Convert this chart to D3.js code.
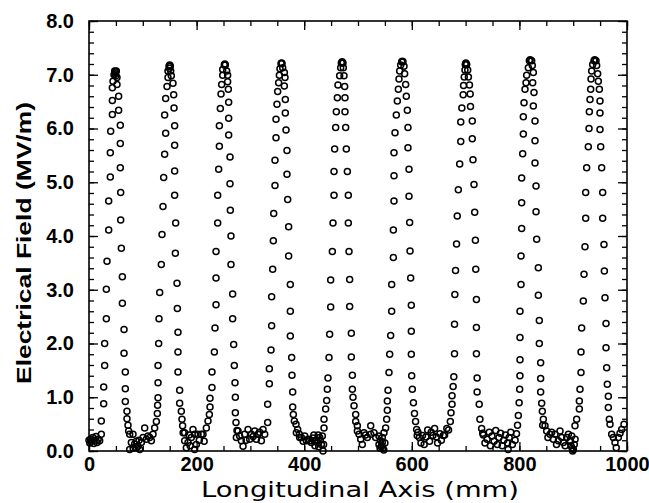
<!DOCTYPE html>
<html><head><meta charset="utf-8">
<script src="https://cdn.jsdelivr.net/npm/d3@7/dist/d3.min.js"></script>
<style>
html,body{margin:0;padding:0;background:#fff;}
svg{display:block;}
</style></head>
<body>
<svg id="chart" width="649" height="503"></svg>
<script>
// ---- Data (x in mm, y in MV/m) ----
const base0 = [[0,0.2],[1.5,0.15],[3,0.22],[5,0.18],[7,0.25],[9,0.14],[11,0.2],[13,0.27],[15,0.16],[17,0.22],[19.8,0.19],[22.9,0.31]];
const peak1 = [[22.9,0.56],[27.3,0.88],[27.3,1.19],[29.1,1.59],[29.1,2.0],[32.2,2.46],[32.2,3.01],[33.5,3.53],[36.6,4.11],[36.6,4.65],[39.6,5.10],[39.6,5.55],[40.3,5.95],[43.4,6.26],[43.4,6.52],[43.4,6.76],[44.6,6.88],[46.5,7.0],[47.7,7.07],
  [49.5,7.05],[48.5,7.02],[50,6.98],
  [50.8,7.07],[52.0,6.95],[52.0,6.82],[55.1,6.60],[55.1,6.34],[58.2,6.06],[58.2,5.72],[58.2,5.27],[58.9,4.81],[58.9,4.30],[60.1,3.77],[62.0,3.24],[62.0,2.75],[65.1,2.26],[65.1,1.82],[67.5,1.47],[67.5,1.16],[67.5,0.92],[70.6,0.74],[70.6,0.60],[72.5,0.48]];
const base1 = [[73.7,0.37],[75.6,0.31],[81.8,0.31],[78.7,0.16],[75.6,0.03],[84.9,0.13],[87.9,0.06],[91,0.09],[94.2,0.03],[97.3,0.16],[100.4,0.25],[103.5,0.43],[106.6,0.22],[109.7,0.28],[112.8,0.25],[115.9,0.19],[119,0.31],[122,0.43],[88,0.18],[82,0.05],[93,0.2]];
const peak2 = [[125.2,0.55],[127,0.70],[127.5,0.85],[128.3,0.99],[128.3,1.27],[128.3,1.59],[129.5,2.0],[130.1,2.46],[131.4,2.95],[134.4,3.47],[135.7,4.03],[137.5,4.55],[138.8,5.09],[140.6,5.52],[142.5,5.91],[140.6,6.25],[142.5,6.56],[145,6.78],[146.8,6.95],[146.8,7.07],[148.7,7.16],
  [150,7.18],[149.5,7.12],
  [151.2,7.16],[151.8,7.07],[153,6.98],[156.1,6.84],[157.4,6.63],[158,6.38],[159.2,6.05],[159.2,5.69],[159.2,5.21],[159.2,4.76],[161.1,4.24],[160.5,3.68],[163.6,3.12],[164.2,2.65],[165.4,2.21],[165.4,1.84],[165.4,1.47],[168.5,1.13],[168.5,0.89],[171.6,0.74],[172.8,0.59],[174,0.47],[175,0.34]];
const base2 = [[177.8,0.34],[177.8,0.19],[184,0.16],[180.9,0.06],[190.2,0.25],[193.3,0.40],[196.4,0.31],[199.5,0.12],[196.4,0.03],[202.6,0.31],[208.8,0.31],[211.9,0.31],[218.1,0.43],[186,0.3],[205,0.2],[214,0.18],[188,0.1]];
const peak3 = [[221.2,0.56],[223.7,0.68],[224.9,0.82],[224.9,0.98],[228.6,1.18],[228.6,1.47],[233,1.84],[234.2,2.29],[236.1,2.72],[236.1,3.22],[236.1,3.71],[239.2,4.24],[239.2,4.76],[241,5.24],[242.3,5.67],[242.3,6.05],[244.1,6.37],[245.4,6.64],[246.6,6.82],[248.5,6.99],[248.5,7.10],[251.5,7.18],
  [252.5,7.2],
  [253.4,7.18],[255.9,7.07],[257.7,6.99],[257.7,6.87],[259,6.73],[259.6,6.49],[259.6,6.19],[259.6,5.88],[262.1,5.47],[262.1,4.97],[262.7,4.48],[263.9,4.0],[263.9,3.47],[267,2.92],[267,2.46],[268.9,1.98],[270.1,1.59],[271.4,1.27],[272,1.0],[272,0.71],[273.2,0.53],[275.1,0.38]];
const base3 = [[277,0.37],[273.9,0.25],[283.2,0.19],[286.3,0.09],[289.4,0.31],[295.6,0.40],[298.7,0.22],[301.8,0.31],[308,0.37],[311.1,0.22],[314.2,0.31],[320.4,0.19],[323.5,0.40],[326.6,0.31],[280,0.28],[292,0.2],[305,0.27],[317,0.35]];
const peak4 = [[332.1,0.53],[332.1,0.87],[335.2,1.25],[335.2,1.53],[338.3,1.88],[339.5,2.33],[339.5,2.87],[341.4,3.38],[342.6,3.91],[343.3,4.42],[345.7,4.94],[345.7,5.41],[347.6,5.83],[347.6,6.17],[349.4,6.45],[350.7,6.69],[352.5,6.85],[353.8,6.99],[355,7.11],[356.9,7.21],
  [358,7.22],
  [358.7,7.21],[360,7.13],[363.1,7.04],[364.3,6.95],[363.1,6.79],[364.9,6.54],[364.9,6.29],[366.2,5.97],[368,5.59],[368,5.15],[369.3,4.68],[371.1,4.17],[371.1,3.63],[374.2,3.10],[374.2,2.60],[374.2,2.14],[376.7,1.74],[377.3,1.41],[378.6,1.10],[378.6,0.82],[379.8,0.68],[381.7,0.56],[384.8,0.50],[387.9,0.40],[391,0.31]];
const base4 = [[385.4,0.34],[391.6,0.25],[394.7,0.25],[400.9,0.28],[404,0.19],[407.1,0.22],[410.2,0.19],[413.3,0.16],[419.5,0.19],[428.8,0.25],[431.9,0.12],[435,0.0],[398,0.18],[416,0.24],[423,0.2],[426,0.3],[433.7,0.28],[436,0.12],[420,0.1],[425,0.15],[430,0.2],[427,0.08],[418,0.3]];
const peak5 = [[436.8,0.43],[436.8,0.59],[439.9,0.78],[441.8,0.94],[443,1.15],[444.2,1.36],[446.1,1.74],[447.3,2.17],[449.2,2.68],[449.2,3.18],[452.3,3.71],[453.5,4.24],[455.4,4.76],[455.4,5.20],[456.6,5.62],[458.5,6.02],[459.7,6.31],[461.6,6.57],[462.8,6.81],[465.9,6.98],[467.8,7.13],[469,7.22],
  [470.5,7.24],
  [472.1,7.22],[472.7,7.13],[474,6.98],[475.2,6.78],[475.8,6.57],[475.8,6.31],[477.1,6.02],[478.3,5.62],[480.2,5.20],[482,4.76],[482,4.24],[483.3,3.71],[484.5,3.19],[484.5,2.69],[487.6,2.19],[487.6,1.75],[489.5,1.41],[489.5,1.15],[490.7,1.0],[492.6,0.84],[495.7,0.68],[495.7,0.55]];
const base5 = [[498.8,0.47],[498.8,0.37],[501.9,0.31],[505,0.22],[511.2,0.34],[517.4,0.25],[523.6,0.47],[523.6,0.31],[529.7,0.34],[532.8,0.25],[539,0.28],[542.1,0.19],[545.2,0.25],[548.3,0.34],[545.2,0.16],[539,0.12],[546,0.05],[543,0.08],[508,0.12],[514,0.3],[541,0.05],[544,0.1],[548,0.02],[550,0.15]];
const peak6 = [[551.4,0.43],[553.3,0.59],[554.5,0.76],[554.5,0.93],[555.8,1.13],[557.6,1.46],[558.9,1.80],[560.7,2.15],[562.6,2.60],[562.6,3.10],[565.7,3.60],[565.7,4.11],[566.9,4.65],[566.9,5.12],[566.9,5.55],[568.8,5.92],[571.2,6.25],[573.1,6.51],[575,6.73],[576.2,6.92],[577.4,7.07],[579.3,7.18],[581.2,7.24],
  [582.5,7.25],
  [583.6,7.24],[585.5,7.16],[586.7,7.02],[588.6,6.82],[589.8,6.60],[591.7,6.34],[592.9,6.02],[592.9,5.64],[594.8,5.24],[594.8,4.74],[596,4.25],[596.7,3.72],[597.9,3.22],[599.1,2.71],[599.1,2.23],[599.1,1.80],[599.8,1.40],[601,1.15],[603,0.90],[605,0.70],[607,0.55],[609,0.40],[610,0.29]];
const base6 = [[611.4,0.35],[614,0.25],[619.8,0.29],[626.3,0.26],[629.5,0.39],[636,0.35],[639.2,0.29],[642.4,0.42],[645.7,0.26],[652.2,0.32],[658.6,0.29],[665.1,0.42],[617,0.15],[623,0.12],[633,0.18],[648,0.15],[655,0.2],[661,0.3]];
const peak7 = [[668.3,0.39],[671.6,0.55],[672.9,0.71],[674.8,0.87],[674.8,1.03],[676.8,1.20],[678.1,1.38],[679.4,1.81],[679.4,2.36],[680,2.91],[681.3,3.36],[683.2,3.85],[684.5,4.37],[686.5,4.86],[689,5.34],[691,5.76],[691,6.12],[693,6.38],[695.5,6.63],[696.2,6.80],[697.5,6.96],[698.8,7.09],[699.4,7.19],
  [700.5,7.22],
  [702,7.19],[703.9,7.09],[705.2,6.96],[707.2,6.81],[708.5,6.64],[709.1,6.41],[712.4,6.14],[712.4,5.81],[713.7,5.42],[715.6,4.96],[716.9,4.44],[718.2,3.92],[718.9,3.38],[720.1,2.82],[720.1,2.30],[720.1,1.81],[721.4,1.36],[721.4,1.10],[725.3,0.87],[726.6,0.59],[729.8,0.42],[731.8,0.33]];
const base7 = [[733,0.30],[736,0.15],[740,0.22],[744,0.35],[746,0.1],[749,0.28],[753,0.18],[756,0.38],[759,0.12],[762,0.25],[765,0.33],[768,0.1],[771,0.2],[774,0.3],[778,0.15],[781,0.25],[784,0.35],[787,0.12],[779,0.03]];
const peak8 = [[792,0.20],[794.6,0.32],[796.5,0.48],[798,0.66],[799.5,0.90],[800.5,1.15],[801,1.40],[801.1,1.70],[801.1,2.11],[801.1,2.60],[803,3.10],[803,3.63],[804.2,4.14],[804.2,4.62],[804.2,5.08],[806.1,5.53],[807.3,5.90],[807.3,6.22],[808.6,6.48],[810.4,6.73],[812.3,6.85],[813.5,6.99],[816.6,7.13],[818.5,7.26],
  [820,7.28],
  [822.8,7.26],[824,7.17],[825.9,7.04],[824.7,6.85],[827.1,6.67],[825.9,6.42],[829,6.14],[829,5.77],[829,5.36],[830.9,4.93],[830.9,4.45],[832.1,3.94],[835.2,3.41],[835.2,2.90],[837,2.43],[837,2.0],[839.5,1.64],[839.5,1.35],[839.5,1.10],[841.4,0.89],[842.6,0.74],[844.5,0.59],[843.3,0.48]];
const base8 = [[847.6,0.47],[850.7,0.37],[856.9,0.31],[863.1,0.22],[866.2,0.31],[872.4,0.19],[875.5,0.37],[878.6,0.25],[881.7,0.16],[887.9,0.25],[891,0.31],[894.1,0.19],[897.2,0.28],[900.4,0.03],[903.5,0.22],[853,0.25],[860,0.35],[869,0.12],[885,0.1],[896,0.1],[898,0.05],[902,0.12],[895,0.18],[899,0.0]];
const peak9 = [[903.3,0.47],[906.4,0.59],[911.4,0.78],[911.4,0.93],[912.6,1.15],[914.5,1.46],[914.5,1.84],[915.7,2.29],[918.8,2.79],[920.1,3.29],[921.9,3.80],[923.2,4.33],[923.2,4.81],[925,5.27],[928.1,5.66],[929.4,6.0],[930,6.31],[931.2,6.54],[932.5,6.73],[933.1,6.92],[934.3,7.07],[936.2,7.19],[938.7,7.26],
  [940,7.28],
  [942.4,7.26],[943.6,7.17],[945.5,7.02],[946.7,6.88],[948.6,6.73],[949.8,6.51],[949.8,6.29],[949.8,5.98],[951.1,5.66],[952.9,5.27],[954.8,4.81],[954.8,4.33],[957.2,3.84],[957.9,3.35],[959.1,2.85],[961,2.37],[961,1.92],[962.2,1.55],[963.4,1.24],[965.3,1.02],[965.3,0.81],[967.1,0.59],[968.4,0.50],[971.5,0.31],[974.6,0.25]];
const base9 = [[977.7,0.16],[983.9,0.25],[990.1,0.40],[994.4,0.50],[980,0.06],[987,0.33]];

const xMajorTicks = [0,200,400,600,800,1000];
const xMinorTicks = d3.range(0,1001,50);
const yMajorTicks = [0,1,2,3,4,5,6,7,8];
const yMinorTicks = d3.range(0,8.001,0.2);
const xTitle = "Longitudinal Axis (mm)";
const yTitle = "Electrical Field (MV/m)";

// ---- Drawing ----
const svg = d3.select("#chart");
const x = d3.scaleLinear().domain([0,1000]).range([89,627]);
const y = d3.scaleLinear().domain([0,8]).range([451,21]);
const FONT = "'Liberation Sans', Arial, Helvetica, sans-serif";

const allPoints = [].concat(base0,peak1,base1,peak2,base2,peak3,base3,peak4,base4,peak5,base5,peak6,base6,peak7,base7,peak8,base8,peak9,base9);

svg.append("g").selectAll("circle").data(allPoints).join("circle")
  .attr("cx", d => x(d[0])).attr("cy", d => y(d[1])).attr("r", 3.0)
  .attr("fill", "none").attr("stroke", "#000").attr("stroke-width", 1.5);

function styleAxis(g){
  g.select(".domain").remove();
  g.selectAll(".tick line").attr("stroke","#000").attr("stroke-width",1.3);
  g.selectAll(".tick text").attr("fill","#000").attr("font-family",FONT)
    .attr("font-weight","bold").attr("font-size","20px");
}
// bottom
svg.append("g").attr("transform",`translate(0,${y(0)})`)
  .call(d3.axisBottom(x).tickValues(xMinorTicks).tickSize(-5).tickFormat("")).call(styleAxis);
svg.append("g").attr("transform",`translate(0,${y(0)})`)
  .call(d3.axisBottom(x).tickValues(xMajorTicks).tickSize(-9).tickPadding(6).tickFormat(d3.format("d"))).call(styleAxis);
// top
svg.append("g").attr("transform",`translate(0,${y(8)})`)
  .call(d3.axisTop(x).tickValues(xMinorTicks).tickSize(-5).tickFormat("")).call(styleAxis);
svg.append("g").attr("transform",`translate(0,${y(8)})`)
  .call(d3.axisTop(x).tickValues(xMajorTicks).tickSize(-9).tickFormat("")).call(styleAxis);
// left
svg.append("g").attr("transform",`translate(${x(0)},0)`)
  .call(d3.axisLeft(y).tickValues(yMinorTicks).tickSize(-5).tickFormat("")).call(styleAxis);
svg.append("g").attr("transform",`translate(${x(0)},0)`)
  .call(d3.axisLeft(y).tickValues(yMajorTicks).tickSize(-9).tickPadding(15).tickFormat(d3.format(".1f"))).call(styleAxis);
// right
svg.append("g").attr("transform",`translate(${x(1000)},0)`)
  .call(d3.axisRight(y).tickValues(yMinorTicks).tickSize(-5).tickFormat("")).call(styleAxis);
svg.append("g").attr("transform",`translate(${x(1000)},0)`)
  .call(d3.axisRight(y).tickValues(yMajorTicks).tickSize(-9).tickFormat("")).call(styleAxis);

// frame
svg.append("rect").attr("x",x(0)).attr("y",y(8)).attr("width",x(1000)-x(0)).attr("height",y(0)-y(8))
  .attr("fill","none").attr("stroke","#000").attr("stroke-width",1.6);

// titles
svg.append("text").attr("x",360).attr("y",497).attr("text-anchor","middle")
  .attr("font-family","'DejaVu Sans', sans-serif").attr("font-size","22px").attr("textLength",318).attr("lengthAdjust","spacingAndGlyphs")
  .attr("fill","#000").text(xTitle);
svg.append("text").attr("transform",`translate(31,243) rotate(-90)`).attr("text-anchor","middle")
  .attr("font-family",FONT).attr("font-size","21px").attr("font-weight","bold").attr("fill","#000")
  .attr("textLength",282).attr("lengthAdjust","spacingAndGlyphs")
  .text(yTitle);
</script>
</body></html>
